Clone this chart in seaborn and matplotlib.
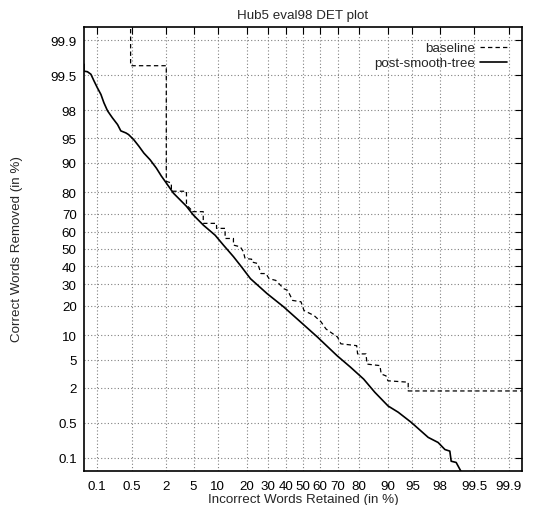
"""Hub5 eval98 DET plot (probit-scaled axes)."""

from statistics import NormalDist

import matplotlib

matplotlib.use("Agg")
import matplotlib.pyplot as plt
import numpy as np
import pandas as pd
import seaborn as sns

# x = incorrect words retained (%), y = correct words removed (%)
baseline_fa = [0.48, 0.48, 2.0, 2.0, 2.4, 2.4, 4.0, 4.0, 4.7, 4.7, 6.7, 6.7,
               9.7, 9.7, 12.1, 12.1, 14.8, 14.8, 17.3, 18.5, 19.2, 22.0, 22.0,
               24.8, 26.4, 28.9, 30.5, 34.1, 38.7, 40.9, 43.8, 48.8, 50.6,
               56.6, 60.7, 63.5, 69.8, 71.5, 79.0, 79.4, 82.8, 83.2, 87.6,
               88.0, 89.4, 89.9, 94.3, 94.3, 99.99]
baseline_miss = [99.99, 99.67, 99.67, 84.2, 83.6, 80.4, 80.4, 74.3, 71.8, 71.0,
                 71.0, 64.8, 64.8, 62.0, 62.0, 56.2, 56.2, 52.3, 51.3, 48.5,
                 44.4, 44.0, 42.4, 41.5, 35.8, 35.8, 33.0, 32.1, 27.8, 27.0,
                 22.3, 21.7, 18.1, 16.2, 14.0, 11.8, 9.6, 8.0, 7.6, 6.0, 6.0,
                 4.4, 4.2, 3.2, 3.0, 2.54, 2.42, 1.77, 1.77]

tree_fa = [0.03, 0.05, 0.05, 0.06, 0.072, 0.084, 0.10, 0.12, 0.139, 0.166,
           0.21, 0.267, 0.31, 0.39, 0.44, 0.55, 0.68, 0.84, 1.08, 1.38, 1.67,
           1.91, 2.58, 3.99, 4.98, 6.73, 9.34, 11.6, 14.8, 17.7, 21.5, 29.5,
           38.5, 48.5, 58.5, 69.6, 76.2, 81.9, 85.95, 89.94, 92.35, 94.8,
           97.0, 97.88, 98.35, 98.63, 98.70, 98.93, 99.12, 99.3]
tree_miss = [99.72, 99.69, 99.58, 99.57, 99.52, 99.37, 99.16, 98.90, 98.49,
             97.97, 97.40, 96.74, 96.0, 95.73, 95.50, 94.74, 93.65, 92.25,
             90.70, 88.47, 85.99, 84.25, 79.6, 73.7, 69.25, 63.8, 58.1, 52.3,
             45.5, 39.7, 33.0, 25.4, 19.6, 14.0, 9.63, 5.68, 4.0, 2.69, 1.69,
             1.0, 0.78, 0.51, 0.262, 0.207, 0.148, 0.137, 0.083, 0.078, 0.049,
             0.02]

tick_pcts = [0.1, 0.5, 2, 5, 10, 20, 30, 40, 50, 60, 70, 80, 90, 95, 98,
             99.5, 99.9]

ND = NormalDist()
_to_z = np.vectorize(lambda v: ND.inv_cdf(v / 100.0), otypes=[float])
_to_p = np.vectorize(lambda z: ND.cdf(z) * 100.0, otypes=[float])


def probit(p):
    p = np.clip(np.asarray(p, dtype=float), 1e-7, 100 - 1e-7)
    return _to_z(p)


def inv_probit(z):
    return _to_p(np.asarray(z, dtype=float))


sns.set_theme(style="white")
plt.rcParams["font.family"] = ["Liberation Sans", "DejaVu Sans"]
plt.rcParams["font.size"] = 9.6

fig = plt.figure(figsize=(5.37, 5.06), dpi=100)
ax = fig.add_axes([84 / 537, 1 - 472 / 506, 438 / 537, 444 / 506])
ax.set_xscale("function", functions=(probit, inv_probit))
ax.set_yscale("function", functions=(probit, inv_probit))

base = pd.DataFrame({"fa": baseline_fa, "miss": baseline_miss})
tree = pd.DataFrame({"fa": tree_fa, "miss": tree_miss})
sns.lineplot(data=base, x="fa", y="miss", sort=False, estimator=None,
             color="black", lw=0.9, linestyle=(0, (3.5, 2.5)),
             label="baseline", ax=ax)
sns.lineplot(data=tree, x="fa", y="miss", sort=False, estimator=None,
             color="black", lw=1.2, label="post-smooth-tree", ax=ax)

lim = (ND.cdf(-3.29) * 100, ND.cdf(3.29) * 100)
ax.set_xlim(lim)
ax.set_ylim(lim)
labels = [f"{t:g}" for t in tick_pcts]
ax.set_xticks(tick_pcts, labels)
ax.set_yticks(tick_pcts, labels)
ax.minorticks_off()
ax.tick_params(direction="in", length=5, width=0.8, color="black",
               top=True, right=True, labelsize=9.6, labelcolor="black")
ax.tick_params(axis="x", pad=6.8)
ax.tick_params(axis="y", pad=5.3)
ax.grid(True, color="#808080", linestyle=(0, (1, 2)), linewidth=0.8)
ax.set_axisbelow(True)
for sp in ax.spines.values():
    sp.set_color("black")
    sp.set_linewidth(1.2)

ax.set_xlabel("")
ax.set_ylabel("")
fig.text(303 / 537, 1 - 16 / 506, "Hub5 eval98 DET plot",
         ha="center", va="center", fontsize=9.6)
fig.text(303 / 537, 1 - 500 / 506, "Incorrect Words Retained (in %)",
         ha="center", va="center", fontsize=9.6)
fig.text(17.5 / 537, 1 - 249 / 506, "Correct Words Removed (in %)",
         ha="center", va="center", rotation=90, fontsize=9.6)

ax.legend(loc="upper right", bbox_to_anchor=(507 / 537, 1 - 43 / 506),
          bbox_transform=fig.transFigure, frameon=False, markerfirst=False,
          handlelength=2.0, handletextpad=0.4, borderpad=0,
          borderaxespad=0, labelspacing=0.2, fontsize=9.6)

fig.savefig("out.png", dpi=100)
plt.close(fig)
